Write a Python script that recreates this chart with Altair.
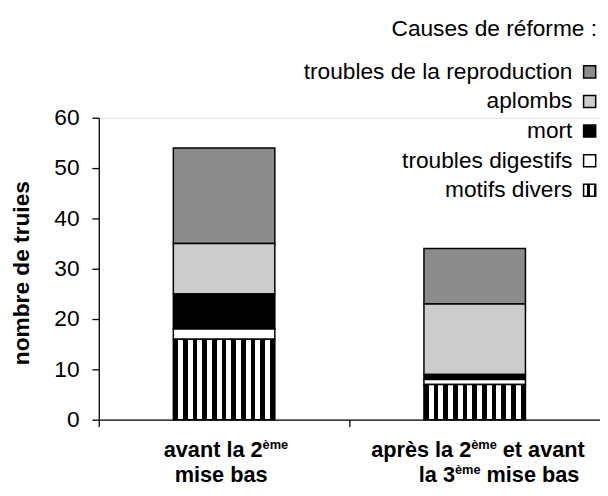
import altair as alt
import pandas as pd

# ---------------- data ----------------
categories = ["avant la 2ème mise bas", "après la 2ème et avant la 3ème mise bas"]
causes = ["troubles de la reproduction", "aplombs", "mort", "troubles digestifs", "motifs divers"]
reproduction = [19, 11]
aplombs = [10, 14]
mort = [7, 1]
digestifs = [2, 1]
divers = [16, 7]
cause_colors = ["#8c8c8c", "#cccccc", "#000000", "#ffffff"]
y_ticks = [0, 10, 20, 30, 40, 50, 60]

cat1_line1 = "avant la 2"
cat1_line2 = "mise bas"
cat2_line1 = ["après la 2", "et avant"]
cat2_line2 = ["la 3", "mise bas"]
sup = "ème"
title_text = "Causes de  réforme :"
y_title = "nombre de truies"

series = [reproduction, aplombs, mort, digestifs, divers]
rows = []
for ci, cause in enumerate(causes):
    for k, cat in enumerate(categories):
        rows.append({"periode": cat, "cause": cause, "n": series[ci][k],
                     "ordre": len(causes) - 1 - ci})
df = pd.DataFrame(rows)

# vertical black/white stripes as a hard-stop linear gradient
n_seg = 21
stops = []
for i in range(n_seg):
    col = "black" if i % 2 == 0 else "white"
    stops.append("{offset: %.4f, color: '%s'}" % (i / n_seg, col))
    stops.append("{offset: %.4f, color: '%s'}" % ((i + 1) / n_seg, col))
stripe_expr = ("{gradient: 'linear', x1: 0, y1: 0, x2: 1, y2: 0, stops: ["
               + ", ".join(stops) + "]}")

FONT = "Liberation Sans"
W, H = 508, 306

bars = alt.Chart(df).mark_bar(
    stroke="black", strokeWidth=1.5, width=alt.RelativeBandSize(0.405)
).encode(
    x=alt.X("periode:N", sort=categories,
            scale=alt.Scale(paddingInner=0, paddingOuter=0),
            axis=alt.Axis(labels=False, title=None, bandPosition=0, tickSize=7,
                          domainColor="black", tickColor="black",
                          domainWidth=1.3, tickWidth=1.3)),
    y=alt.Y("n:Q", stack="zero", scale=alt.Scale(domain=[0, 60], nice=False),
            axis=alt.Axis(values=y_ticks, title=y_title, grid=False, tickSize=7,
                          labelFontSize=23, labelPadding=13, labelColor="black",
                          labelFont=FONT,
                          domainColor="black", tickColor="black",
                          domainWidth=1.3, tickWidth=1.3,
                          titleFontSize=23, titleFontWeight="bold", titleColor="black",
                          titleFont=FONT,
                          titleX=-78, titleY=157, titleAlign="center",
                          titleBaseline="middle")),
    color=alt.Color("cause:N",
                    scale=alt.Scale(domain=causes,
                                    range=cause_colors + [alt.ExprRef(stripe_expr)]),
                    legend=alt.Legend(orient="none", legendX=486, legendY=-58,
                                      direction="vertical", title=None,
                                      symbolType="square", symbolSize=150,
                                      symbolStrokeColor="black", symbolStrokeWidth=1.5,
                                      labelAlign="right", labelOffset=alt.ExprRef("-29"),
                                      labelLimit=400, labelFontSize=23,
                                      labelColor="black", labelFont=FONT,
                                      rowPadding=6, padding=0)),
    order=alt.Order("ordre:Q", sort="ascending"),
)


def label_part(cat, text, dx, y, size, align):
    return alt.Chart(pd.DataFrame({"periode": [cat], "t": [text]})).mark_text(
        dx=dx, align=align, baseline="alphabetic", fontSize=size,
        fontWeight="bold", color="black", font=FONT
    ).encode(
        x=alt.X("periode:N", sort=categories),
        y=alt.value(y),
        text="t:N",
    )


L1, L2, S1, S2 = 344, 369, 336, 361
FS, SS = 22, 13
labels = [
    label_part(categories[0], cat1_line1, 39, L1, FS, "right"),
    label_part(categories[0], sup, 39, S1, SS, "left"),
    label_part(categories[0], cat1_line2, -3, L2, FS, "center"),
    label_part(categories[1], cat2_line1[0], -3.5, L1, FS, "right"),
    label_part(categories[1], sup, -3.5, S1, SS, "left"),
    label_part(categories[1], cat2_line1[1], 28.5, L1, FS, "left"),
    label_part(categories[1], cat2_line2[0], -20, L2, FS, "right"),
    label_part(categories[1], sup, -20, S2, SS, "left"),
    label_part(categories[1], cat2_line2[1], 12, L2, FS, "left"),
]

chart = alt.layer(bars, *labels).properties(
    width=W, height=H,
    title=alt.TitleParams(title_text, anchor="end", frame="group", fontSize=23,
                          fontWeight="normal", color="black", font=FONT,
                          offset=20, dx=-3),
    autosize=alt.AutoSizeParams(type="none"),
    padding={"left": 92, "top": 108, "right": 0, "bottom": 66},
).configure_view(stroke=None).configure(font=FONT)

chart.save("out.html", embed_options={"renderer": "svg", "actions": False})
